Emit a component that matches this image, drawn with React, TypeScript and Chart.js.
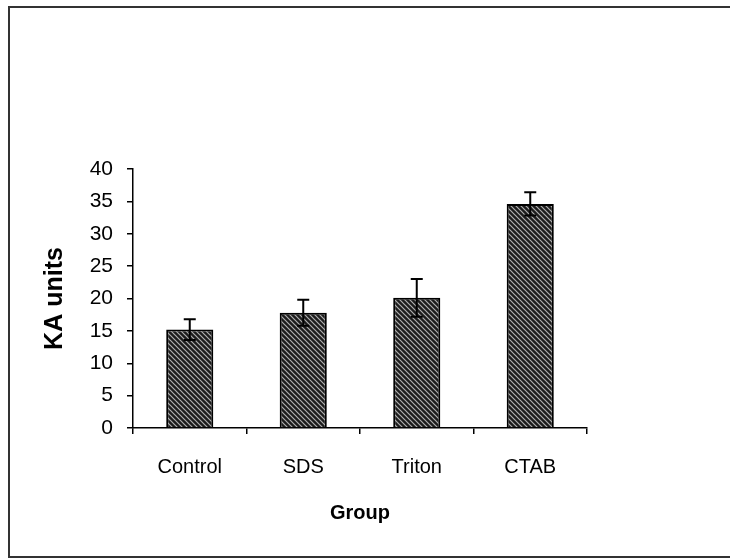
import React, { useEffect, useRef } from "react";
import { Chart, registerables } from "chart.js";

Chart.register(...registerables);

const categories = ["Control", "SDS", "Triton", "CTAB"];
const means = [15.2, 17.8, 20.1, 34.6];
const errors = [1.6, 2.0, 2.9, 1.8];
const yMin = 0;
const yMax = 40;
const yStep = 5;
const xTitle = "Group";
const yTitle = "KA units";

function makeHatch(): CanvasPattern | string {
  const size = 5;
  const c = document.createElement("canvas");
  c.width = size;
  c.height = size;
  const g = c.getContext("2d");
  if (!g) return "#222";
  g.fillStyle = "#1c1c1c";
  g.fillRect(0, 0, size, size);
  g.strokeStyle = "#b0b0b0";
  g.lineWidth = 1.2;
  g.beginPath();
  g.moveTo(-1, -1);
  g.lineTo(size + 1, size + 1);
  g.moveTo(-1, size - 1);
  g.lineTo(1, size + 1);
  g.moveTo(size - 1, -1);
  g.lineTo(size + 1, 1);
  g.stroke();
  const p = g.createPattern(c, "repeat");
  return p || "#222";
}

const errorBarPlugin = {
  id: "errorBars",
  afterDatasetsDraw(chart: any) {
    const ctx = chart.ctx;
    const meta = chart.getDatasetMeta(0);
    const yScale = chart.scales.y;
    ctx.save();
    ctx.strokeStyle = "#000";
    ctx.lineWidth = 2;
    meta.data.forEach((bar: any, i: number) => {
      const x = bar.x;
      const top = yScale.getPixelForValue(means[i] + errors[i]);
      const bot = yScale.getPixelForValue(means[i] - errors[i]);
      const cap = 6;
      ctx.beginPath();
      ctx.moveTo(x, top);
      ctx.lineTo(x, bot);
      ctx.moveTo(x - cap, top);
      ctx.lineTo(x + cap, top);
      ctx.moveTo(x - cap, bot);
      ctx.lineTo(x + cap, bot);
      ctx.stroke();
    });
    ctx.restore();
  },
};

const framePlugin = {
  id: "frame",
  afterDraw(chart: any) {
    const ctx = chart.ctx;
    ctx.save();
    ctx.strokeStyle = "#333";
    ctx.lineWidth = 2;
    ctx.beginPath();
    ctx.moveTo(730, 7);
    ctx.lineTo(9, 7);
    ctx.lineTo(9, 557);
    ctx.lineTo(730, 557);
    ctx.stroke();
    ctx.restore();
  },
};

export default function App() {
  const ref = useRef<HTMLCanvasElement | null>(null);

  useEffect(() => {
    if (!ref.current) return;
    const hatch = makeHatch();
    const chart = new Chart(ref.current, {
      type: "bar",
      data: {
        labels: categories,
        datasets: [
          {
            data: means,
            backgroundColor: hatch as any,
            borderColor: "#000",
            borderWidth: 2,
            categoryPercentage: 1,
            barPercentage: 0.415,
          },
        ],
      },
      options: {
        responsive: false,
        animation: false,
        devicePixelRatio: 1,
        layout: { padding: { top: 169, right: 143, left: 0, bottom: 0 } },
        plugins: {
          legend: { display: false },
          tooltip: { enabled: false },
        },
        scales: {
          x: {
            afterFit(scale: any) {
              scale.height = 131;
            },
            grid: {
              display: true,
              drawOnChartArea: false,
              drawTicks: true,
              tickLength: 6,
              color: "#000",
              lineWidth: 1.5,
              offset: true,
            },
            border: { display: true, color: "#000", width: 1.5 },
            ticks: {
              color: "#000",
              font: { family: "'Liberation Sans', Arial, sans-serif", size: 20 },
              padding: 21,
              maxRotation: 0,
            },
            title: {
              display: true,
              text: xTitle,
              color: "#000",
              font: { family: "'Liberation Sans', Arial, sans-serif", size: 20, weight: "bold" },
              padding: { top: 0, bottom: 34 },
            },
          },
          y: {
            min: yMin,
            max: yMax,
            afterFit(scale: any) {
              scale.width = 133;
            },
            grid: {
              display: true,
              drawOnChartArea: false,
              drawTicks: true,
              tickLength: 6,
              color: "#000",
              lineWidth: 1.5,
            },
            border: { display: true, color: "#000", width: 1.5 },
            ticks: {
              stepSize: yStep,
              color: "#000",
              font: { family: "'Liberation Sans', Arial, sans-serif", size: 21 },
              padding: 14,
            },
            title: {
              display: true,
              text: yTitle,
              color: "#000",
              font: { family: "'Liberation Sans', Arial, sans-serif", size: 25, weight: "bold" },
              padding: { top: 40, bottom: 0 },
            },
          },
        },
      },
      plugins: [errorBarPlugin, framePlugin],
    });
    return () => chart.destroy();
  }, []);

  return (
    <div style={{ position: "absolute", left: 0, top: 0, width: 730, height: 559, background: "#fff" }}>
      <canvas ref={ref} width={730} height={559} style={{ display: "block" }} />
    </div>
  );
}
